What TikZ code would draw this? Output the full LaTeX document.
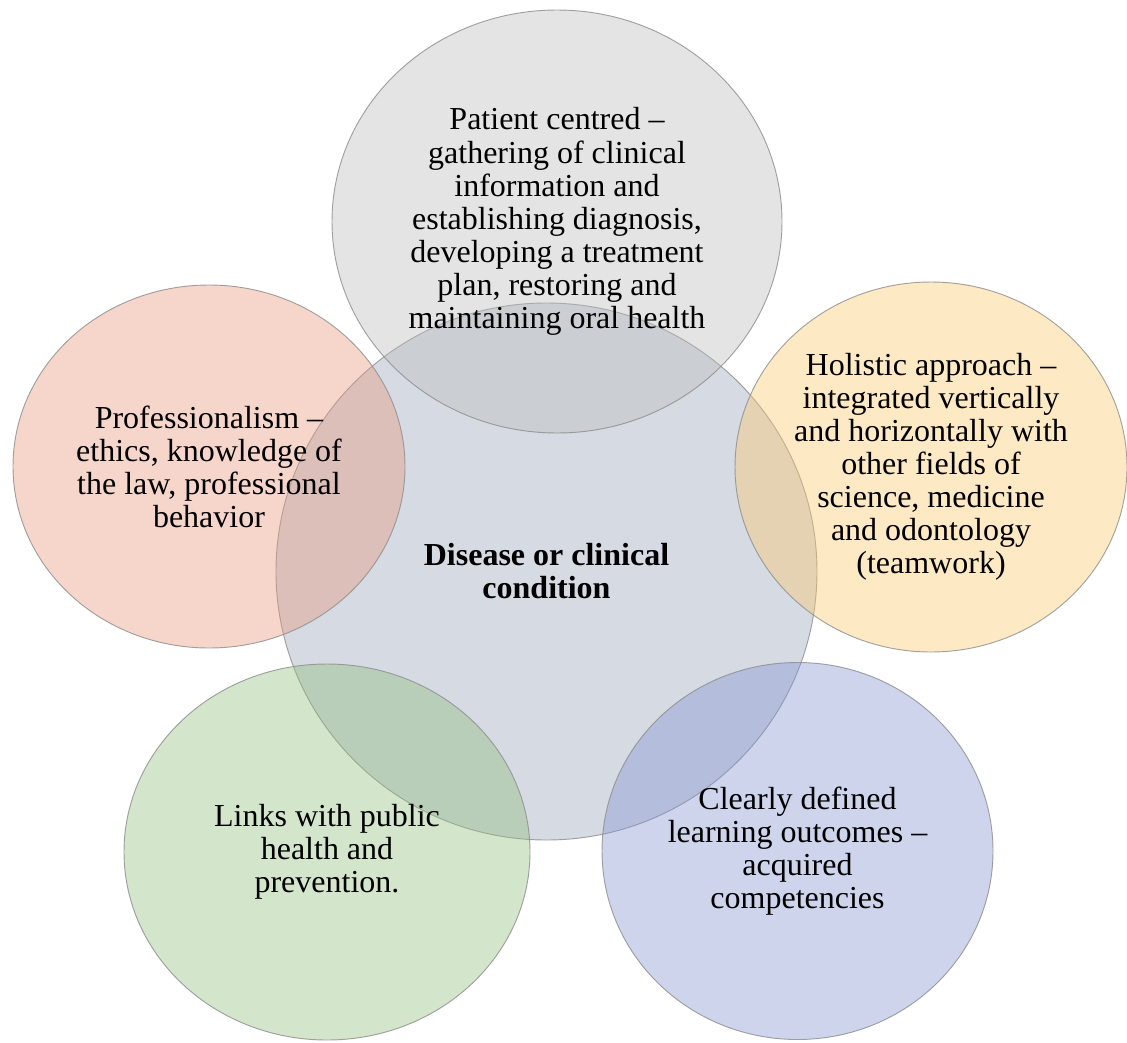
\documentclass[tikz,border=0pt]{standalone}
\usepackage{fontspec}
\setmainfont{Liberation Serif}
\usetikzlibrary{shapes.geometric}
\definecolor{cgray}{RGB}{188,188,188}
\definecolor{ccenter}{RGB}{150,162,185}
\definecolor{cpink}{RGB}{232,152,122}
\definecolor{cyellow}{RGB}{250,200,107}
\definecolor{cgreen}{RGB}{145,190,122}
\definecolor{cblue}{RGB}{130,147,207}
\newcommand{\bodyfont}{\fontsize{24}{24.8}\selectfont}
\tikzset{
  blob/.style n args={3}{ellipse, draw=black!45, line width=0.7pt,
    fill=#1, fill opacity=0.4, text opacity=1, draw opacity=0.8,
    minimum width=#2*0.75pt, minimum height=#3*0.75pt,
    inner sep=0pt, align=center, font=\bodyfont}
}
\begin{document}
\begin{tikzpicture}[x=0.75pt,y=-0.75pt]
\useasboundingbox (0,0) rectangle (1127,1042);
\node[blob={ccenter}{541}{537}] (center) at (546.5,571.5) {\textbf{Disease or clinical}\\\textbf{condition}};
\node[blob={cgray}{450}{423}] (top) at (557,221.5) {Patient centred --\\gathering of clinical\\information and\\establishing diagnosis,\\developing a treatment\\plan, restoring and\\maintaining oral health};
\node[blob={cpink}{392}{363}] (left) at (209,466.5) {Professionalism --\\ethics, knowledge of\\the law, professional\\behavior};
\node[blob={cyellow}{392}{370}] (right) at (931,467) {Holistic approach --\\integrated vertically\\and horizontally with\\other fields of\\science, medicine\\and odontology\\(teamwork)};
\node[blob={cgreen}{406}{376}] (green) at (327,852) {Links with public\\health and\\prevention.};
\node[blob={cblue}{391}{377}] (blue) at (797.5,851) {Clearly defined\\learning outcomes --\\acquired\\competencies};
\end{tikzpicture}
\end{document}
